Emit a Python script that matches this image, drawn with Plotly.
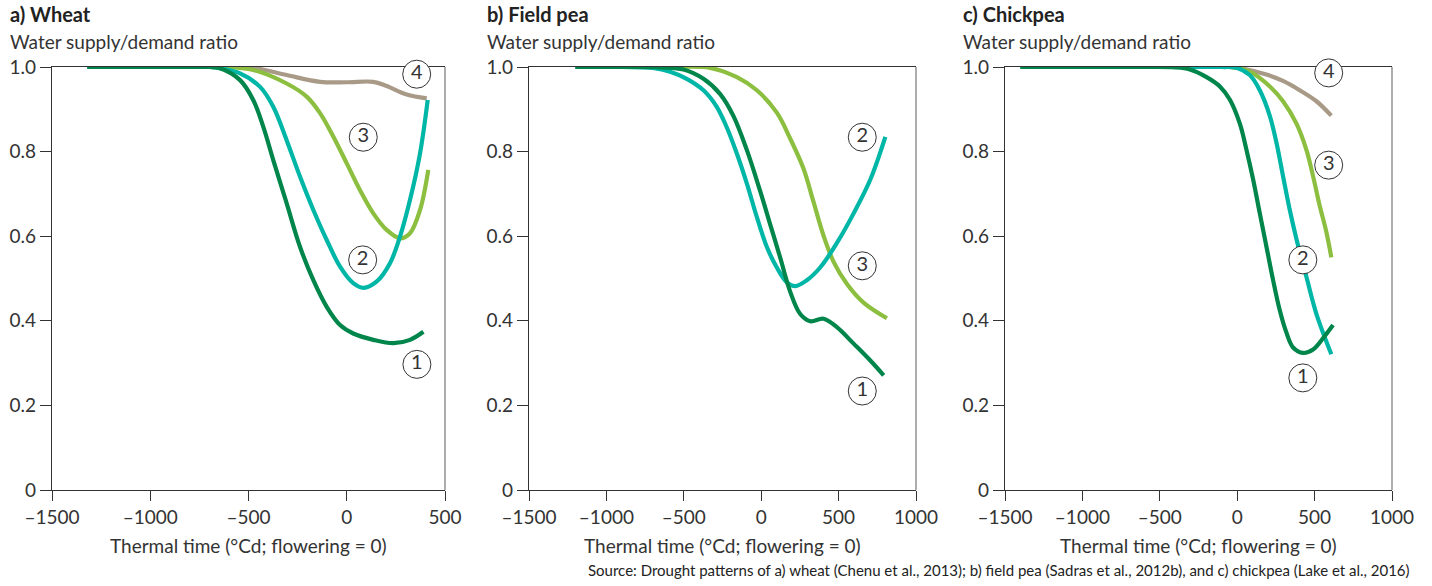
import plotly.graph_objects as go

# ---------------- data ----------------
wheat_x_1 = [-1320, -900, -700, -645, -543, -476, -425, -374, -306, -238, -170, -102, -34, 33, 135, 237, 322, 390]
wheat_y_1 = [1.0, 1.0, 1.0, 0.997, 0.969, 0.922, 0.859, 0.78, 0.678, 0.575, 0.496, 0.433, 0.39, 0.37, 0.355, 0.347, 0.355, 0.374]
wheat_x_2 = [-1320, -900, -700, -645, -543, -441, -374, -306, -238, -170, -102, -34, 33, 85, 153, 220, 271, 322, 373, 412]
wheat_y_2 = [1.0, 1.0, 1.0, 0.997, 0.985, 0.953, 0.906, 0.827, 0.741, 0.662, 0.591, 0.528, 0.489, 0.478, 0.493, 0.536, 0.599, 0.686, 0.796, 0.922]
wheat_x_3 = [-1320, -900, -650, -476, -306, -204, -136, -68, 0, 67, 135, 203, 271, 322, 373, 415]
wheat_y_3 = [1.0, 1.0, 1.0, 0.993, 0.961, 0.93, 0.891, 0.835, 0.772, 0.709, 0.654, 0.615, 0.595, 0.607, 0.662, 0.757]
wheat_x_4 = [-1320, -1000, -650, -476, -306, -136, 0, 135, 203, 305, 407]
wheat_y_4 = [1.0, 1.0, 1.0, 0.998, 0.981, 0.965, 0.964, 0.965, 0.955, 0.935, 0.926]

pea_x_1 = [-1200, -900, -650, -502, -373, -265, -179, -93, -7, 58, 123, 187, 252, 317, 403, 489, 597, 705, 791]
pea_y_1 = [1.0, 1.0, 0.999, 0.994, 0.972, 0.936, 0.884, 0.804, 0.707, 0.628, 0.549, 0.469, 0.416, 0.399, 0.405, 0.385, 0.346, 0.306, 0.271]
pea_x_2 = [-1200, -900, -700, -588, -481, -373, -287, -222, -157, -93, -28, 36, 101, 166, 220, 295, 381, 489, 597, 705, 802]
pea_y_2 = [1.0, 1.0, 0.998, 0.989, 0.972, 0.945, 0.906, 0.857, 0.795, 0.725, 0.645, 0.575, 0.526, 0.491, 0.482, 0.496, 0.526, 0.584, 0.654, 0.734, 0.835]
pea_x_3 = [-1200, -900, -600, -330, -157, -28, 101, 187, 273, 338, 403, 467, 554, 661, 812]
pea_y_3 = [1.0, 1.0, 1.0, 0.998, 0.976, 0.945, 0.892, 0.831, 0.76, 0.681, 0.601, 0.54, 0.487, 0.443, 0.406]

chick_x_1 = [-1400, -1000, -600, -400, -306, -198, -112, -48, 17, 60, 103, 146, 189, 232, 275, 318, 361, 426, 490, 555, 619]
chick_y_1 = [1.0, 1.0, 1.0, 0.999, 0.994, 0.976, 0.954, 0.923, 0.866, 0.804, 0.734, 0.654, 0.575, 0.496, 0.425, 0.372, 0.337, 0.324, 0.332, 0.359, 0.39]
chick_x_2 = [-1400, -1000, -500, -100, -5, 81, 146, 211, 253, 296, 339, 383, 447, 512, 608]
chick_y_2 = [1.0, 1.0, 1.0, 1.0, 0.998, 0.981, 0.945, 0.884, 0.822, 0.742, 0.663, 0.593, 0.504, 0.416, 0.321]
chick_x_3 = [-1400, -1000, -500, -50, 81, 211, 296, 383, 447, 490, 533, 576, 608]
chick_y_3 = [1.0, 1.0, 1.0, 1.0, 0.989, 0.954, 0.919, 0.866, 0.804, 0.742, 0.672, 0.61, 0.55]
chick_x_4 = [-1400, -1000, -500, -50, 38, 189, 296, 404, 512, 608]
chick_y_4 = [1.0, 1.0, 1.0, 1.0, 0.996, 0.982, 0.967, 0.945, 0.919, 0.885]

panel_titles = ["a) Wheat", "b) Field pea", "c) Chickpea"]
y_title = "Water supply/demand ratio"
x_title = "Thermal time (°Cd; flowering = 0)"
y_tickvals = [0, 0.2, 0.4, 0.6, 0.8, 1.0]
y_ticktext = ["0", "0.2", "0.4", "0.6", "0.8", "1.0"]
x_tickvals = [-1500, -1000, -500, 0, 500, 1000]
x_ticktext = ["–1500", "–1000", "–500", "0", "500", "1000"]
x_ranges = [[-1500, 500], [-1500, 1000], [-1500, 1000]]

# circled labels per panel
label_text = [["4", "3", "2", "1"], ["2", "3", "1"], ["4", "3", "2", "1"]]
label_x = [[356, 84, 81, 357], [653, 653, 653], [591, 591, 424, 424]]
label_y = [[0.983, 0.834, 0.544, 0.297], [0.834, 0.53, 0.234], [0.986, 0.768, 0.544, 0.265]]

source_text = ("Source: Drought patterns of a) wheat (Chenu et al., 2013); b) field pea "
               "(Sadras et al., 2012b), and c) chickpea (Lake et al., 2016)")

# ---------------- style ----------------
C1, C2, C3, C4 = "#00854A", "#00B6A6", "#8CBF3F", "#A89A86"
W, H = 1432, 586
FONT = "Lato"
TXT = "#333333"
domains_px = [(52, 445), (529, 916), (1005, 1392)]
y_top_px, y_bot_px = 67, 490

fig = go.Figure()

series = [
    (0, [(wheat_x_4, wheat_y_4, C4), (wheat_x_3, wheat_y_3, C3), (wheat_x_2, wheat_y_2, C2), (wheat_x_1, wheat_y_1, C1)]),
    (1, [(pea_x_3, pea_y_3, C3), (pea_x_2, pea_y_2, C2), (pea_x_1, pea_y_1, C1)]),
    (2, [(chick_x_4, chick_y_4, C4), (chick_x_3, chick_y_3, C3), (chick_x_2, chick_y_2, C2), (chick_x_1, chick_y_1, C1)]),
]
for p, lst in series:
    xa = "x" if p == 0 else f"x{p+1}"
    ya = "y" if p == 0 else f"y{p+1}"
    for xs, ys, c in lst:
        fig.add_trace(go.Scatter(x=xs, y=ys, mode="lines", xaxis=xa, yaxis=ya,
                                 line=dict(color=c, width=4.2, shape="spline", smoothing=1.0),
                                 hoverinfo="skip", showlegend=False))
    # circled number labels
    fig.add_trace(go.Scatter(x=label_x[p], y=label_y[p], text=label_text[p], mode="markers+text",
                             xaxis=xa, yaxis=ya, textposition="middle center", cliponaxis=False,
                             marker=dict(symbol="circle", size=28, color="white",
                                         line=dict(color=TXT, width=1)),
                             textfont=dict(size=20, color=TXT, family=FONT),
                             hoverinfo="skip", showlegend=False))

layout = dict(width=W, height=H, margin=dict(l=0, r=0, t=0, b=0, autoexpand=False),
              paper_bgcolor="white", plot_bgcolor="white", showlegend=False,
              font=dict(family=FONT, color=TXT, size=19))
ydom = [1 - y_bot_px / H, 1 - y_top_px / H]
shapes, annotations = [], []
for i, (l, r) in enumerate(domains_px):
    sfx = "" if i == 0 else str(i + 1)
    keep = [k for k, v in enumerate(x_tickvals) if x_ranges[i][0] <= v <= x_ranges[i][1]]
    layout["xaxis" + sfx] = dict(domain=[l / W, r / W], range=x_ranges[i], anchor="y" + sfx,
                                 tickvals=[x_tickvals[k] for k in keep],
                                 ticktext=[x_ticktext[k] for k in keep],
                                 ticks="outside", ticklen=10, tickwidth=1, tickcolor=TXT,
                                 showline=True, linecolor=TXT, linewidth=1.2, mirror=True,
                                 showgrid=False, zeroline=False, fixedrange=True, automargin=False,
                                 layer="below traces",
                                 tickfont=dict(size=19, color=TXT, family=FONT))
    layout["yaxis" + sfx] = dict(domain=ydom, range=[0, 1], anchor="x" + sfx,
                                 tickvals=y_tickvals, ticktext=y_ticktext,
                                 ticks="outside", ticklen=11, tickwidth=1, tickcolor=TXT,
                                 showline=True, linecolor=TXT, linewidth=1.2,
                                 showgrid=False, zeroline=False, fixedrange=True, automargin=False,
                                 layer="below traces",
                                 tickfont=dict(size=19, color=TXT, family=FONT))
    # right frame line (lighter gray)
    shapes.append(dict(type="line", xref=f"x{sfx} domain", yref=f"y{sfx} domain", layer="below",
                       x0=1, x1=1, y0=0, y1=1, line=dict(color="#8a8a8a", width=1.4)))
    tx = (l - 44) / W
    annotations.append(dict(text=f"<b>{panel_titles[i]}</b>", x=tx, y=1 - 14 / H, xref="paper", yref="paper",
                            xanchor="left", yanchor="middle", showarrow=False,
                            font=dict(size=20, color="#222222", family=FONT)))
    annotations.append(dict(text=y_title, x=tx, y=1 - 42 / H, xref="paper", yref="paper",
                            xanchor="left", yanchor="middle", showarrow=False,
                            font=dict(size=19, color=TXT, family=FONT)))
    annotations.append(dict(text=x_title, x=(l + r) / 2 / W, y=1 - 545 / H, xref="paper", yref="paper",
                            xanchor="center", yanchor="middle", showarrow=False,
                            font=dict(size=19, color=TXT, family=FONT)))

annotations.append(dict(text=source_text, x=1412 / W, y=1 - 570 / H, xref="paper", yref="paper",
                        xanchor="right", yanchor="middle", showarrow=False,
                        font=dict(size=15, color="#222222", family=FONT)))

layout["shapes"] = shapes
layout["annotations"] = annotations
fig.update_layout(**layout)
fig.write_html("out.html")
